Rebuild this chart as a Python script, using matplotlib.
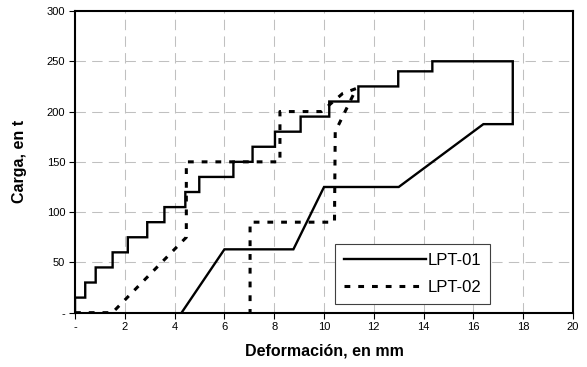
import matplotlib.pyplot as plt

plt.rcParams['font.family'] = ['Liberation Sans', 'DejaVu Sans']

# LPT-01, loading staircase and unloading path
lpt01_x = [4.28, 6.0, 8.77, 10.0, 13.0, 16.4, 17.58, 17.58, 14.35, 14.35, 12.98, 12.98,
           11.38, 11.38, 10.21, 10.21, 9.06, 9.06, 8.03, 8.03, 7.13, 7.13, 6.36, 6.36,
           4.99, 4.99, 4.43, 4.43, 3.59, 3.59, 2.9, 2.9, 2.12, 2.12, 1.51, 1.51,
           0.83, 0.83, 0.41, 0.41, 0.0, 0.0]
lpt01_y = [0, 63, 63, 125, 125, 187.5, 187.5, 250, 250, 240, 240, 225,
           225, 210, 210, 195, 195, 180, 180, 165, 165, 150, 150, 135,
           135, 120, 120, 105, 105, 90, 90, 75, 75, 60, 60, 45,
           45, 30, 30, 15, 15, 0]

# LPT-02
lpt02_x = [0.0, 1.5, 4.47, 4.47, 8.23, 8.23, 9.9, 10.75, 11.3, 10.45, 10.42, 7.03, 7.03]
lpt02_y = [0, 0, 75, 150, 150, 200, 200, 218, 223, 180, 90, 90, 0]

x_ticks = [0, 2, 4, 6, 8, 10, 12, 14, 16, 18, 20]
x_tick_labels = ['-', '2', '4', '6', '8', '10', '12', '14', '16', '18', '20']
y_ticks = [0, 50, 100, 150, 200, 250, 300]
y_tick_labels = ['-', '50', '100', '150', '200', '250', '300']

fig = plt.figure(figsize=(5.87, 3.67), dpi=100)
ax = fig.add_axes([0.1278, 0.148, 0.8484, 0.822])

ax.plot(lpt01_x, lpt01_y, color='black', lw=1.7, label='LPT-01',
        solid_joinstyle='miter')
ax.plot(lpt02_x, lpt02_y, color='black', lw=2.2, linestyle=(0, (1.9, 2.6)),
        label='LPT-02')

ax.set_xlim(0, 20)
ax.set_ylim(0, 300)
ax.set_xticks(x_ticks)
ax.set_xticklabels(x_tick_labels)
ax.set_yticks(y_ticks)
ax.set_yticklabels(y_tick_labels)
ax.tick_params(direction='out', length=4, width=0.8, labelsize=8, colors='black', pad=3)

ax.grid(True, color='#c0c0c0', lw=0.75, linestyle=(0, (10, 6)))
ax.set_axisbelow(True)

for side in ['left', 'right', 'top', 'bottom']:
    ax.spines[side].set_linewidth(1.5)
    ax.spines[side].set_color('black')

ax.set_xlabel('Deformación, en mm', fontsize=11.5, fontweight='bold', labelpad=8)
ax.set_ylabel('Carga, en t', fontsize=11.5, fontweight='bold', labelpad=14)

leg = ax.legend(loc='lower left', bbox_to_anchor=(0.522, 0.029), fontsize=12,
                handlelength=4.9, handletextpad=0.1, borderpad=0.55,
                labelspacing=0.7, fancybox=False, framealpha=1,
                borderaxespad=0)
leg.get_frame().set_edgecolor('#404040')
leg.get_frame().set_linewidth(0.8)

plt.savefig('out.png', dpi=100)
plt.close()
